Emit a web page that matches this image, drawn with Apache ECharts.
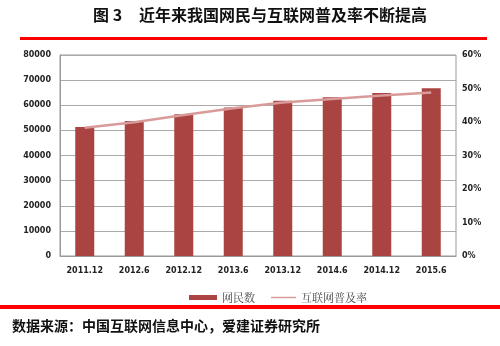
<!DOCTYPE html>
<html><head><meta charset="utf-8">
<script src="https://cdn.jsdelivr.net/npm/echarts@6/dist/echarts.min.js"></script>
<style>html,body{margin:0;padding:0;background:#fff}#c{width:500px;height:346px}</style>
</head><body><div id="c"></div>
<script>
const categories = ['2011.12','2012.6','2012.12','2013.6','2013.12','2014.6','2014.12','2015.6'];
const netizens = [51310, 53760, 56400, 59056, 61758, 63200, 64875, 66769];
const penetration = [38.3, 39.9, 42.1, 44.1, 45.8, 46.9, 47.9, 48.8];
const leftTicks = [0,10000,20000,30000,40000,50000,60000,70000,80000];
const rightTicks = ['0%','10%','20%','30%','40%','50%','60%'];

const chart = echarts.init(document.getElementById('c'));
const cjk = '"Noto Sans CJK SC", sans-serif';
const axFont = {fontFamily:'Verdana, "DejaVu Sans", sans-serif', fontSize:8, color:'#222', fontWeight:'bold'};
const legText = {fontFamily:'"Noto Serif CJK SC","Noto Sans CJK SC",serif', fontSize:11, color:'#444'};
chart.setOption({
  animation:false,
  graphic:[
    {type:'text', left:93, top:7, style:{text:'图 3', font:'bold 16px "Noto Sans CJK SC"', fill:'#111'}},
    {type:'text', left:139, top:7, style:{text:'近年来我国网民与互联网普及率不断提高', font:'bold 16px "Noto Sans CJK SC"', fill:'#111'}},
    {type:'rect', shape:{x:20,y:37,width:467,height:3}, style:{fill:'#ff0000'}},
    {type:'rect', shape:{x:0,y:305,width:500,height:4}, style:{fill:'#ff0000'}},
    {type:'text', left:12, top:319, style:{text:'数据来源：中国互联网信息中心，爱建证券研究所', font:'bold 14px "Noto Sans CJK SC"', fill:'#111'}}
  ],
  legend:[
    {top:287, left:184, itemWidth:28, itemHeight:5, textStyle:legText,
      data:[{name:'网民数', icon:'rect'}]},
    {top:287, left:266, itemWidth:25, itemHeight:1.5, textStyle:legText,
      data:[{name:'互联网普及率', icon:'rect', itemStyle:{color:'#d99a9a'}}]}
  ],
  grid:{left:60, right:44, top:55, bottom:90, show:true, borderColor:'#999', borderWidth:1},
  xAxis:{type:'category', data:categories, axisTick:{show:false},
    axisLine:{lineStyle:{color:'#999'}}, axisLabel:Object.assign({margin:11, interval:0}, axFont)},
  yAxis:[
    {type:'value', min:0, max:80000, interval:10000, axisLine:{show:true, lineStyle:{color:'#999'}},
      axisLabel:Object.assign({margin:9, formatter:v=>String(v)}, axFont),
      splitLine:{lineStyle:{color:'#aaa'}}},
    {type:'value', min:0, max:60, interval:10, axisLine:{show:false},
      axisLabel:Object.assign({margin:6, formatter:v=>rightTicks[v/10]}, axFont),
      splitLine:{show:false}}
  ],
  series:[
    {name:'网民数', type:'bar', data:netizens, barWidth:19, itemStyle:{color:'#a94442'}},
    {name:'互联网普及率', type:'line', yAxisIndex:1, data:penetration, symbol:'none',
      lineStyle:{color:'#d99a9a', width:2.5}, itemStyle:{color:'#d99a9a'}}
  ]
});
</script></body></html>
